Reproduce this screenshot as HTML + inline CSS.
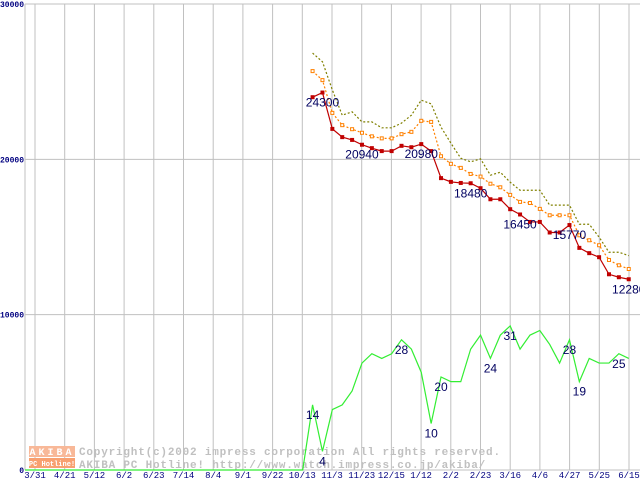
<!DOCTYPE html>
<html><head><meta charset="utf-8"><style>
body{margin:0;background:#fff;}
svg{display:block;font-family:"Liberation Mono","DejaVu Sans Mono",monospace;}
</style></head><body>
<svg id="chart" width="640" height="480" viewBox="0 0 640 480" xmlns="http://www.w3.org/2000/svg">
<g id="grid"></g>
<g id="watermark">
  <rect x="29" y="446" width="12" height="11" fill="#f8b898"/>
  <rect x="41" y="446" width="10" height="11" fill="#f8b898"/>
  <rect x="51" y="446" width="9" height="11" fill="#f8b898"/>
  <rect x="60" y="446" width="15" height="11" fill="#f8b898"/>
  <text x="52" y="455" font-size="10" font-weight="bold" fill="#fff" text-anchor="middle" letter-spacing="3">AKIBA</text>
  <rect x="29" y="458" width="46" height="10" fill="#f8a070"/>
  <text x="52" y="466" font-size="7" fill="#fff" text-anchor="middle" font-weight="bold">PC Hotline!</text>
  <text x="79" y="455" font-size="11" fill="#c0c0c0" font-weight="bold" letter-spacing="0.8">Copyright(c)2002 impress corporation All rights reserved.</text>
  <text x="79" y="468" font-size="11" fill="#c0c0c0" font-weight="bold" letter-spacing="0.8">AKIBA PC Hotline!  http://www.watch.impress.co.jp/akiba/</text>
</g>
<g id="series"></g>
<g id="labels"></g>
</svg>
<script>
const xLabels = ["3/31","4/21","5/12","6/2","6/23","7/14","8/4","9/1","9/22","10/13","11/3","11/23","12/15","1/12","2/2","2/23","3/16","4/6","4/27","5/25","6/15"];
const yTicks = [0,10000,20000,30000];
// weekly indexes k = 0..33 starting at 10/13 week
const redValues = [null,24000,24300,21960,21430,21250,20940,20720,20530,20530,20870,20780,20980,20530,18790,18550,18480,18460,18140,17430,17430,16790,16450,15970,15970,15290,15290,15770,14300,13960,13700,12600,12410,12280];
const orangeValues = [null,25680,25100,22990,22200,21940,21710,21480,21350,21350,21620,21770,22480,22410,20200,19710,19450,19060,18890,18430,18200,17710,17260,17190,16810,16400,16400,16400,15110,14790,14470,13520,13180,12940];
const oliveValues = [null,26840,26280,24470,22840,23060,22410,22410,22030,22030,22330,22840,23810,23570,22070,21040,20070,19840,20030,18980,19170,18530,18010,18010,18010,17050,17050,17050,15820,15820,14990,14020,14020,13800];
const shopCounts = [0,14,4,13,14,17,23,25,24,25,28,26,21,10,20,19,19,26,29,24,29,31,26,29,30,27,23,28,19,24,23,23,25,24];
const priceLabels = [[2,"24300"],[6,"20940"],[12,"20980"],[17,"18480"],[22,"16450"],[27,"15770"],[33,"12280"]];
const countLabels = [[1,"14"],[2,"4"],[10,"28"],[13,"10"],[14,"20"],[19,"24"],[21,"31"],[27,"28"],[28,"19"],[32,"25"]];

const NS="http://www.w3.org/2000/svg";
const L=25,T=4,B=470,R=640;
const yP=v=>B-(v/30000)*(B-T);
const yC=v=>B-v*4.65;
const xK=k=>302.7+k*9.88;
const xG=i=>35+i*29.7;
function mk(tag,attrs,parent){const e=document.createElementNS(NS,tag);for(const a in attrs)e.setAttribute(a,attrs[a]);parent.appendChild(e);return e;}
const grid=document.getElementById('grid'),ser=document.getElementById('series'),lab=document.getElementById('labels');

xLabels.forEach((t,i)=>{
  const ln=mk('line',{x1:xG(i),x2:xG(i),y1:T,y2:B,stroke:'#c0c0c0'},grid);
  
  
  const tx=mk('text',{x:xG(i),y:478,'font-size':9,fill:'#000080','text-anchor':'middle'},grid);
  tx.textContent=t;
  
  
});
yTicks.forEach(v=>{
  const ln=mk('line',{x1:L,x2:R,y1:yP(v),y2:yP(v),stroke:'#c0c0c0'},grid);
  
  
  const tx=mk('text',{x:24,y:yP(v)+3,'font-size':8,fill:'#000080','text-anchor':'end','font-weight':'bold'},grid);
  tx.textContent=String(v);
  
  
});
const ax=mk('line',{x1:L,x2:L,y1:T,y2:B,stroke:'#c0c0c0'},grid);



function pts(arr,fy){return arr.map((v,k)=>v==null?null:[xK(k),fy(v)]).filter(p=>p);}
const gp=pts(shopCounts,yC);gp.unshift([L,yC(shopCounts[0])]);
const g=mk('polyline',{points:gp.map(p=>p.join(',')).join(' '),fill:'none',stroke:'#33ee33','stroke-width':1.2},ser);


const ol=mk('polyline',{points:pts(oliveValues,yP).map(p=>p.join(',')).join(' '),fill:'none',stroke:'#808000','stroke-width':1.2,'stroke-dasharray':'2,2'},ser);


const op=pts(orangeValues,yP);
const o=mk('polyline',{points:op.map(p=>p.join(',')).join(' '),fill:'none',stroke:'#ff8000','stroke-width':1.2,'stroke-dasharray':'2,2'},ser);


op.forEach(p=>{const r=mk('rect',{x:p[0]-1.5,y:p[1]-1.5,width:3,height:3,fill:'#fff',stroke:'#ff8000'},ser);
  
  });
const rp=pts(redValues,yP);
const rl=mk('polyline',{points:rp.map(p=>p.join(',')).join(' '),fill:'none',stroke:'#c00000','stroke-width':1.2},ser);


rp.forEach(p=>{const r=mk('rect',{x:p[0]-2,y:p[1]-2,width:4,height:4,fill:'#c00000'},ser);
  
  });

priceLabels.forEach(([k,t])=>{
  const tx=mk('text',{x:xK(k),y:yP(redValues[k])+14,'font-size':12,fill:'#000060','text-anchor':'middle'},lab);
  tx.setAttribute('style','font-family:"Liberation Sans",sans-serif');
  tx.textContent=t;
  
  
});
countLabels.forEach(([k,t])=>{
  const tx=mk('text',{x:xK(k),y:yC(shopCounts[k])+14,'font-size':12,fill:'#000060','text-anchor':'middle'},lab);
  tx.setAttribute('style','font-family:"Liberation Sans",sans-serif');
  tx.textContent=t;
  
  
});
</script>
</body></html>
